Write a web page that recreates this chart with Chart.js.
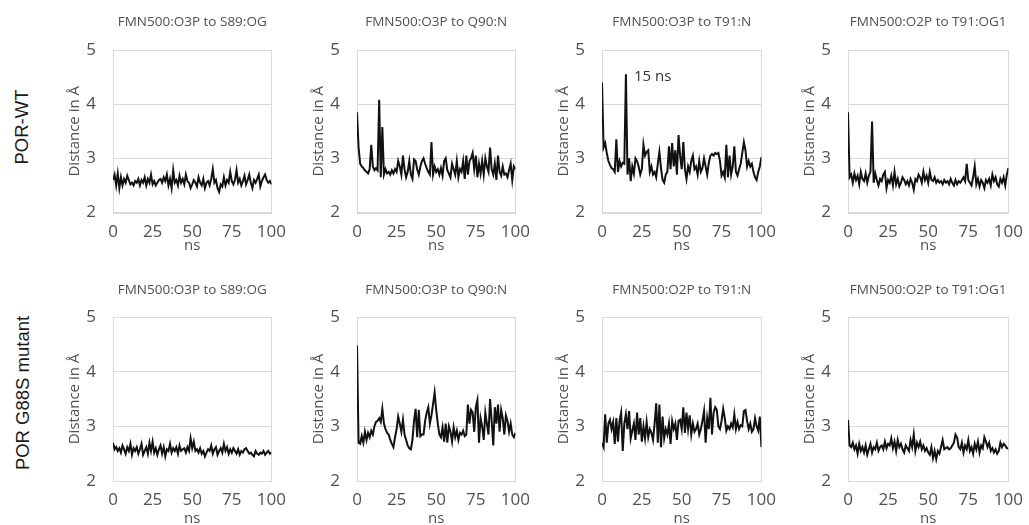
<!DOCTYPE html>
<html>
<head>
<meta charset="utf-8">
<script src="https://cdn.jsdelivr.net/npm/chart.js@4.4.1/dist/chart.umd.min.js"></script>
<style>
    html, body { margin: 0; padding: 0; background: #fff; overflow: hidden; }
    body { width: 1029px; height: 525px; position: relative; }
    .panel { position: absolute; }
    .rowLabel {
        position: absolute;
        font-family: "Liberation Sans", Arial, sans-serif;
        font-size: 18.5px;
        color: #1a1a1a;
        white-space: nowrap;
        transform: translate(-50%, -50%) rotate(-90deg);
    }
</style>
</head>
<body>
<div class="rowLabel" style="left:22px; top:127px;">POR-WT</div>
<div class="rowLabel" style="left:23px; top:393px;">POR G88S mutant</div>
<div id="charts"></div>

<script>
// sample times (ns), one frame every ns
const timeNs = [
    0, 1, 2, 3, 4, 5, 6, 7, 8, 9, 10, 11, 12, 13, 14, 15, 16, 17, 18, 19,
    20, 21, 22, 23, 24, 25, 26, 27, 28, 29, 30, 31, 32, 33, 34, 35, 36, 37, 38, 39,
    40, 41, 42, 43, 44, 45, 46, 47, 48, 49, 50, 51, 52, 53, 54, 55, 56, 57, 58, 59,
    60, 61, 62, 63, 64, 65, 66, 67, 68, 69, 70, 71, 72, 73, 74, 75, 76, 77, 78, 79,
    80, 81, 82, 83, 84, 85, 86, 87, 88, 89, 90, 91, 92, 93, 94, 95, 96, 97, 98, 99, 100
];

const xTicks = [0, 25, 50, 75, 100];
const yTicks = [2, 3, 4, 5];

const panelTitles = [
    "FMN500:O3P to S89:OG", "FMN500:O3P to Q90:N", "FMN500:O3P to T91:N", "FMN500:O2P to T91:OG1",
    "FMN500:O3P to S89:OG", "FMN500:O3P to Q90:N", "FMN500:O2P to T91:N", "FMN500:O2P to T91:OG1"
];

// POR-WT
const wtS89 = [
    2.60, 2.70, 2.50, 2.72, 2.45, 2.65, 2.50, 2.62, 2.55, 2.68,
    2.60, 2.52, 2.55, 2.50, 2.58, 2.55, 2.62, 2.50, 2.60, 2.55,
    2.65, 2.50, 2.62, 2.55, 2.70, 2.52, 2.58, 2.50, 2.55, 2.60,
    2.62, 2.55, 2.65, 2.58, 2.70, 2.50, 2.62, 2.45, 2.78, 2.55,
    2.60, 2.50, 2.68, 2.55, 2.62, 2.52, 2.70, 2.58, 2.55, 2.45,
    2.52, 2.60, 2.55, 2.48, 2.65, 2.55, 2.50, 2.62, 2.45, 2.55,
    2.58, 2.50, 2.62, 2.80, 2.55, 2.60, 2.45, 2.38, 2.52, 2.48,
    2.65, 2.50, 2.60, 2.55, 2.75, 2.58, 2.52, 2.60, 2.78, 2.55,
    2.62, 2.50, 2.58, 2.68, 2.52, 2.60, 2.70, 2.55, 2.45, 2.60,
    2.55, 2.62, 2.70, 2.48, 2.58, 2.65, 2.70, 2.60, 2.55, 2.58, 2.52
];
const wtQ90 = [
    3.85, 3.20, 2.90, 2.85, 2.82, 2.78, 2.75, 2.72, 2.80, 3.25,
    2.85, 2.78, 2.82, 2.78, 4.08, 2.65, 3.58, 2.70, 2.80, 2.72,
    2.75, 2.70, 2.78, 2.72, 2.80, 2.75, 2.95, 2.85, 2.70, 3.05,
    2.80, 2.65, 2.75, 2.95, 2.70, 2.62, 2.98, 2.95, 2.80, 2.70,
    2.85, 2.95, 3.00, 2.90, 2.82, 2.75, 2.70, 3.30, 2.70, 2.85,
    2.75, 2.80, 2.70, 2.82, 2.68, 2.95, 3.00, 2.78, 2.72, 2.65,
    2.90, 2.80, 2.70, 2.95, 2.65, 2.80, 2.75, 2.95, 2.62, 3.05,
    2.70, 2.95, 3.00, 3.10, 2.80, 3.05, 2.65, 2.90, 2.72, 2.95,
    2.70, 3.00, 2.85, 2.75, 3.20, 2.80, 2.70, 2.90, 2.60, 3.05,
    2.75, 2.68, 2.85, 2.70, 2.72, 2.65, 2.78, 2.90, 2.60, 2.85, 2.80
];
const wtT91N = [
    4.40, 3.20, 3.28, 3.10, 2.95, 2.88, 2.82, 2.80, 2.75, 3.35,
    2.75, 2.95, 2.85, 2.92, 2.90, 4.55, 2.70, 3.00, 2.58, 2.85,
    2.72, 3.00, 2.95, 2.85, 2.70, 2.80, 3.25, 3.05, 3.12, 3.15,
    2.75, 2.85, 2.70, 2.75, 2.65, 2.90, 3.12, 2.82, 2.60, 2.55,
    2.70, 2.75, 3.22, 2.80, 3.28, 2.85, 3.15, 2.70, 3.43, 3.05,
    2.80, 3.30, 2.80, 2.62, 2.85, 2.75, 2.95, 3.05, 2.80, 2.85,
    2.70, 2.95, 2.75, 2.82, 3.00, 2.85, 2.70, 2.92, 3.05, 3.08,
    3.05, 3.10, 3.08, 3.10, 2.95, 2.68, 2.75, 2.65, 3.25, 2.65,
    3.05, 2.70, 2.85, 3.22, 2.75, 2.68, 2.80, 2.90, 3.10, 3.30,
    3.15, 2.85, 2.95, 2.85, 2.90, 2.75, 2.65, 2.60, 2.75, 2.85, 3.02
];
const wtT91OG1 = [
    3.85, 2.65, 2.70, 2.55, 2.72, 2.60, 2.68, 2.52, 2.75, 2.62,
    2.58, 2.72, 2.55, 2.68, 2.75, 3.68, 2.55, 2.72, 2.60, 2.50,
    2.62, 2.58, 2.70, 2.75, 2.45, 2.60, 2.55, 2.68, 2.50, 2.75,
    2.52, 2.62, 2.48, 2.55, 2.65, 2.60, 2.52, 2.58, 2.50, 2.62,
    2.55, 2.42, 2.62, 2.58, 2.70, 2.65, 2.55, 2.75, 2.60, 2.68,
    2.55, 2.75, 2.60, 2.58, 2.65, 2.55, 2.60, 2.55, 2.58, 2.52,
    2.60, 2.55, 2.58, 2.52, 2.62, 2.55, 2.50, 2.60, 2.52, 2.58,
    2.55, 2.60, 2.65, 2.58, 2.90, 2.60, 2.55, 2.50, 2.65, 2.85,
    2.52, 2.62, 2.48, 2.60, 2.55, 2.45, 2.60, 2.55, 2.62, 2.50,
    2.70, 2.58, 2.65, 2.52, 2.48, 2.62, 2.55, 2.65, 2.50, 2.70, 2.82
];

// POR G88S mutant
const mutS89 = [
    2.70, 2.58, 2.62, 2.55, 2.60, 2.52, 2.65, 2.58, 2.50, 2.62,
    2.55, 2.68, 2.48, 2.60, 2.55, 2.62, 2.50, 2.58, 2.68, 2.48,
    2.55, 2.62, 2.50, 2.70, 2.55, 2.72, 2.52, 2.60, 2.48, 2.58,
    2.65, 2.50, 2.62, 2.45, 2.58, 2.55, 2.68, 2.52, 2.60, 2.55,
    2.62, 2.50, 2.65, 2.55, 2.58, 2.60, 2.52, 2.62, 2.55, 2.78,
    2.60, 2.72, 2.55, 2.58, 2.52, 2.60, 2.50, 2.55, 2.45, 2.52,
    2.58, 2.55, 2.65, 2.50, 2.58, 2.62, 2.48, 2.55, 2.60, 2.52,
    2.68, 2.55, 2.62, 2.50, 2.58, 2.52, 2.60, 2.55, 2.50, 2.58,
    2.48, 2.55, 2.52, 2.58, 2.60, 2.55, 2.50, 2.52, 2.48, 2.45,
    2.55, 2.50, 2.48, 2.52, 2.50, 2.55, 2.48, 2.52, 2.55, 2.50, 2.52
];
const mutQ90 = [
    4.48, 2.70, 2.68, 2.82, 2.70, 2.90, 2.75, 2.88, 2.80, 2.92,
    2.85, 3.00, 3.08, 3.10, 3.15, 3.08, 3.32, 3.05, 2.95, 2.88,
    2.85, 2.75, 2.68, 2.62, 2.80, 2.95, 3.18, 3.05, 2.90, 3.12,
    2.85, 2.75, 2.65, 2.60, 2.58, 2.75, 3.10, 3.32, 2.80, 3.30,
    2.82, 2.85, 2.85, 3.10, 3.25, 3.35, 3.05, 3.20, 3.40, 3.62,
    3.30, 3.05, 2.85, 2.80, 2.98, 2.72, 3.05, 2.70, 3.00, 2.90,
    2.72, 2.98, 2.80, 2.92, 2.75, 2.88, 2.85, 2.92, 2.82, 2.85,
    3.40, 3.05, 3.30, 3.25, 2.90, 3.35, 3.48, 2.70, 3.15, 3.00,
    2.75, 3.25, 3.05, 2.85, 3.50, 3.10, 2.65, 3.35, 3.05, 3.40,
    2.90, 3.30, 3.15, 2.85, 3.20, 3.10, 2.90, 3.05, 2.85, 2.80, 2.88
];
const mutT91N = [
    2.70, 2.62, 3.22, 2.70, 3.05, 3.12, 2.95, 3.08, 2.68, 3.15,
    2.72, 3.10, 3.25, 2.55, 3.05, 3.22, 2.95, 3.28, 2.78, 2.92,
    3.05, 2.75, 3.25, 2.85, 3.15, 2.72, 3.00, 2.78, 3.08, 2.80,
    2.95, 2.88, 2.75, 3.05, 3.42, 2.70, 3.40, 2.62, 3.18, 2.78,
    2.95, 2.85, 3.05, 2.68, 3.10, 2.95, 3.05, 2.75, 3.10, 3.12,
    2.95, 3.35, 2.88, 3.25, 2.95, 3.20, 2.85, 3.05, 2.90, 2.95,
    3.05, 2.85, 2.95, 3.10, 3.28, 2.70, 3.15, 2.95, 3.52, 2.85,
    3.25, 3.35, 3.30, 3.00, 2.95, 3.10, 3.32, 3.15, 2.92, 3.00,
    2.95, 3.05, 2.98, 3.22, 2.95, 3.08, 2.95, 3.02, 3.00, 3.28,
    3.30, 3.10, 2.95, 3.05, 2.90, 2.95, 3.15, 3.00, 2.92, 3.18, 2.62
];
const mutT91OG1 = [
    3.12, 2.65, 2.62, 2.70, 2.58, 2.65, 2.50, 2.68, 2.55, 2.62,
    2.52, 2.65, 2.48, 2.58, 2.68, 2.52, 2.62, 2.58, 2.70, 2.55,
    2.62, 2.65, 2.58, 2.72, 2.60, 2.68, 2.65, 2.78, 2.60, 2.72,
    2.55, 2.75, 2.62, 2.68, 2.58, 2.52, 2.65, 2.60, 2.55, 2.75,
    2.62, 2.85, 2.55, 2.70, 2.62, 2.72, 2.58, 2.65, 2.55, 2.60,
    2.52, 2.48, 2.62, 2.42, 2.55, 2.40, 2.55, 2.50, 2.62, 2.75,
    2.58, 2.60, 2.62, 2.58, 2.60, 2.65, 2.70, 2.85, 2.80, 2.62,
    2.58, 2.70, 2.52, 2.65, 2.58, 2.75, 2.55, 2.62, 2.50, 2.68,
    2.58, 2.72, 2.52, 2.65, 2.60, 2.80, 2.72, 2.62, 2.70, 2.55,
    2.60, 2.52, 2.58, 2.50, 2.55, 2.70, 2.62, 2.68, 2.65, 2.60, 2.60
];

const panelSeries = [wtS89, wtQ90, wtT91N, wtT91OG1, mutS89, mutQ90, mutT91N, mutT91OG1];

// label next to the spike in the WT T91:N panel
const noteText = "15 ns";
const notePanel = 2;
const noteX = 20;
const noteY = 4.5;

// ---- layout (pixels) ----
const plotLefts = [113, 357, 602, 848];
const plotRights = [279, 523, 769, 1016];
const yAxisW = 70;
const rightPad = 16;
const rows = [
    { top: 0, height: 262, titleTop: 14, titleBottom: 19.8, axisH: 49.5, nsPad: 7 },
    { top: 262, height: 266, titleTop: 20, titleBottom: 18.8, axisH: 47, nsPad: 0 }
];

const textGrey = "#505050";
const fontFam = "'Open Sans', 'DejaVu Sans', sans-serif";

// light grey frame round the plot area
const plotBox = {
    id: 'plotBox',
    beforeDatasetsDraw: function (chart) {
        const a = chart.chartArea;
        const ctx = chart.ctx;
        ctx.save();
        ctx.strokeStyle = '#d9d9d9';
        ctx.lineWidth = 1;
        ctx.strokeRect(Math.round(a.left) + 0.5, Math.round(a.top) + 0.5, Math.round(a.width), Math.round(a.height));
        ctx.restore();
    }
};

const spikeNote = {
    id: 'spikeNote',
    afterDatasetsDraw: function (chart, args, opts) {
        if (!opts.text) return;
        const ctx = chart.ctx;
        const px = chart.scales.x.getPixelForValue(opts.x);
        const py = chart.scales.y.getPixelForValue(opts.y);
        ctx.save();
        ctx.font = "15px " + fontFam;
        ctx.fillStyle = "#333";
        ctx.textAlign = "left";
        ctx.textBaseline = "middle";
        ctx.fillText(opts.text, px, py);
        ctx.restore();
    }
};

const holder = document.getElementById('charts');

panelSeries.forEach(function (values, i) {
    const row = rows[Math.floor(i / 4)];
    const col = i % 4;
    const plotW = plotRights[col] - plotLefts[col];
    const w = yAxisW + plotW + rightPad;

    const div = document.createElement('div');
    div.className = 'panel';
    div.style.left = (plotLefts[col] - yAxisW) + 'px';
    div.style.top = row.top + 'px';
    div.style.width = w + 'px';
    div.style.height = row.height + 'px';
    const canvas = document.createElement('canvas');
    canvas.width = w;
    canvas.height = row.height;
    div.appendChild(canvas);
    holder.appendChild(div);

    const points = values.map(function (v, k) {
        return { x: timeNs[k], y: v };
    });

    new Chart(canvas.getContext('2d'), {
        type: 'line',
        data: {
            datasets: [{
                data: points,
                borderColor: '#111',
                borderWidth: 2,
                pointRadius: 0,
                tension: 0,
                fill: false
            }]
        },
        options: {
            responsive: false,
            animation: false,
            events: [],
            layout: { padding: { left: 0, right: rightPad, top: 0, bottom: 0 } },
            plugins: {
                legend: { display: false },
                tooltip: { enabled: false },
                title: {
                    display: true,
                    fullSize: false,   // centre it over the plot, not the whole canvas
                    text: panelTitles[i],
                    color: textGrey,
                    font: { family: fontFam, size: 13.5, weight: 'normal', lineHeight: 1.2 },
                    padding: { top: row.titleTop, bottom: row.titleBottom }
                },
                spikeNote: i === notePanel ? { text: noteText, x: noteX, y: noteY } : { text: '' }
            },
            scales: {
                x: {
                    type: 'linear',
                    min: xTicks[0],
                    max: xTicks[xTicks.length - 1],
                    afterBuildTicks: function (s) { s.ticks = xTicks.map(function (v) { return { value: v }; }); },
                    afterFit: function (s) { s.height = row.axisH; },
                    grid: { display: false, drawTicks: false },
                    border: { display: false },
                    ticks: { color: textGrey, padding: 9, maxRotation: 0, font: { family: fontFam, size: 17 } },
                    title: {
                        display: true,
                        text: 'ns',
                        color: textGrey,
                        font: { family: fontFam, size: 15, lineHeight: 1.2 },
                        padding: { top: 0, bottom: row.nsPad }
                    }
                },
                y: {
                    min: yTicks[0],
                    max: yTicks[yTicks.length - 1],
                    afterBuildTicks: function (s) { s.ticks = yTicks.map(function (v) { return { value: v }; }); },
                    afterFit: function (s) { s.width = yAxisW; },
                    grid: { color: '#d9d9d9', lineWidth: 1, drawTicks: false },
                    border: { display: false },
                    ticks: { color: textGrey, padding: 17, font: { family: fontFam, size: 17 } },
                    title: {
                        display: true,
                        text: 'Distance in Å',
                        color: textGrey,
                        font: { family: fontFam, size: 15, lineHeight: 1.2 },
                        padding: { top: 23, bottom: 0 }
                    }
                }
            }
        },
        plugins: [plotBox, spikeNote]
    });
});
</script>
</body>
</html>
